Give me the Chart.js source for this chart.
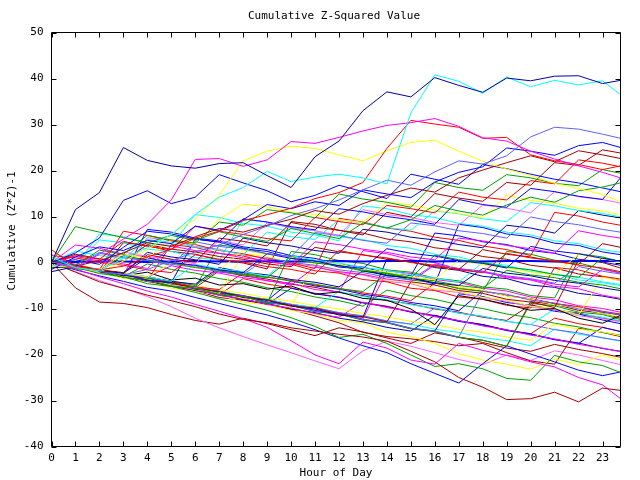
<!DOCTYPE html>
<html><head><meta charset="utf-8">
<script src="https://cdn.jsdelivr.net/npm/chart.js@4"></script>
<style>html,body{margin:0;padding:0;background:#fff}canvas{display:block}</style>
</head><body>
<canvas id="c" width="640" height="480"></canvas>
<script>
const titleText = 'Cumulative Z-Squared Value';
const xAxisLabel = 'Hour of Day';
const yAxisLabel = 'Cumulative (Z*Z)-1';
const hours = [0,1,2,3,4,5,6,7,8,9,10,11,12,13,14,15,16,17,18,19,20,21,22,23,23.75];
const xTickValues = [0,1,2,3,4,5,6,7,8,9,10,11,12,13,14,15,16,17,18,19,20,21,22,23];
const yTickValues = [-40,-30,-20,-10,0,10,20,30,40,50];

// upper outliers
const S1 = [0,11.5,15.2,25.0,22.2,21.0,20.5,21.5,21.7,18.9,16.3,23.0,26.4,33.0,37.1,36.0,40.2,38.5,37.0,40.1,39.5,40.5,40.6,38.9,39.6];
const S2 = [1.2,-1.1,-1.8,0.9,3.2,6.1,10.4,14.2,16.3,19.8,17.6,18.6,19.2,18.4,17.1,32.5,40.8,39.4,36.8,40.3,38.2,39.6,38.6,39.5,36.5];
const S3 = [0,-1.2,1.8,5.1,8.3,13.6,22.4,22.6,20.9,22.3,26.3,25.9,27.2,28.6,29.8,30.4,31.3,29.6,27.1,26.4,24.2,22.5,21.0,19.6,18.4];
const S4 = [2.8,-0.9,-1.6,-0.8,1.2,2.9,5.3,6.8,9.1,10.4,11.8,13.9,15.2,17.4,24.8,30.9,30.1,29.4,27.0,27.2,23.4,22.1,21.3,20.2,21.0];
const S5 = [0,-0.8,-1.9,-2.7,-1.5,0.4,2.3,3.8,6.1,7.9,10.2,11.7,13.6,15.8,17.9,16.8,19.7,22.1,21.4,23.2,27.3,29.4,29.0,27.9,27.0];
const S6 = [0,-0.9,-2.1,0.3,2.8,6.2,9.4,14.6,22.1,24.2,25.3,24.8,23.4,22.1,24.3,26.1,26.6,24.2,22.0,20.3,18.9,17.2,16.1,14.8,13.2];
const S7 = [-1.5,1.2,3.4,2.6,4.8,4.1,7.9,7.0,9.3,12.6,11.7,13.2,12.4,15.8,14.9,14.1,17.5,19.6,20.8,24.9,24.2,23.3,25.4,26.1,25.0];
const S8 = [0,-0.8,0.4,2.1,4.3,3.5,5.6,7.4,6.6,8.1,9.4,11.3,10.5,12.8,14.6,16.2,15.3,18.4,20.1,21.7,23.2,21.9,24.3,23.4,22.6];
const G1 = [0,7.8,6.6,5.4,4.3,5.9,4.8,6.7,5.5,4.6,7.4,6.3,5.2,8.6,7.5,9.3,12.4,11.2,10.3,12.5,14.2,13.1,15.6,16.4,17.3];
const H2 = [0,2.1,5.3,13.5,15.6,12.8,14.2,19.1,17.3,15.6,13.2,14.6,16.8,15.4,13.9,19.2,18.1,17.0,21.3,20.4,19.2,18.1,17.3,16.2,15.4];
// upper middle
const u1 = [0,1.5,0.7,4.6,3.5,2.8,7.9,6.8,6.1,5.2,4.7,9.8,8.9,8.2,12.4,11.7,10.8,15.3,14.2,13.6,17.8,17.1,22.3,21.6,20.8];
const u2 = [0.6,-0.7,2.7,1.8,5.9,4.9,4.2,8.8,8.1,11.5,10.8,9.7,14.9,13.8,13.1,12.0,17.4,16.3,15.7,19.1,18.4,17.2,16.7,20.2,19.4];
const u3 = [0,0.6,-0.4,3.3,6.8,6.2,5.1,4.5,9.5,8.8,7.8,7.1,11.7,11.0,10.0,9.3,8.3,13.7,12.6,12.0,16.1,15.4,14.4,13.7,18.4];
const u4 = [-0.8,-1.0,-1.6,1.9,0.9,5.0,4.0,9.4,12.7,12.1,11.0,10.4,9.3,8.7,13.1,12.5,11.4,10.7,9.7,14.6,13.5,12.9,11.8,11.2,10.4];
const u5 = [0,-0.6,-1.6,-2.2,1.7,0.7,0.1,5.3,4.6,3.6,8.7,7.7,7.0,6.0,10.9,9.9,15.0,14.0,13.3,17.4,16.8,21.7,21.1,24.5,23.8];
const u6 = [1.8,-0.9,-1.5,2.3,1.3,0.7,-0.3,4.8,3.8,8.6,7.6,6.9,5.9,11.5,10.4,9.8,8.7,8.1,12.5,11.8,10.8,15.4,14.3,13.7,12.9];
const u7 = [0,2.5,1.5,0.9,5.0,4.4,3.4,2.7,1.7,6.6,5.6,5.0,9.3,8.6,7.6,7.0,11.2,10.6,9.5,8.9,13.0,12.3,11.3,10.7,9.9];
const u8 = [0,-1.0,2.0,1.0,0.4,-0.6,4.5,3.5,2.9,1.9,1.3,6.5,5.9,4.8,4.2,8.6,8.0,6.9,6.3,5.3,9.9,8.9,8.2,7.2,6.6];
const u9 = [-1.2,-0.7,-1.7,-2.3,2.2,1.2,0.6,-0.4,5.3,4.3,3.6,2.6,2.0,7.2,6.6,5.5,4.9,3.9,3.2,8.1,7.5,6.4,11.3,10.3,9.7];
const u10 = [0,1.3,0.3,-0.3,-1.3,3.6,2.6,2.0,1.0,0.4,-0.6,4.5,3.9,2.9,2.2,1.2,0.6,5.3,4.7,3.7,3.0,2.0,6.9,5.9,5.3];
// middle
const m1 = [0,-0.7,-1.7,-2.3,1.0,0.0,-0.6,-1.6,-2.2,1.9,0.9,0.3,-0.7,-1.3,3.0,2.0,1.4,0.4,-0.2,-1.2,3.5,2.5,1.9,0.9,0.3];
const m2 = [1.5,1.0,0.0,-0.6,-1.6,-2.2,1.7,0.7,0.1,-0.9,-1.5,-2.5,2.6,1.6,1.0,0.0,-0.6,-1.6,-2.2,2.0,1.0,0.4,-0.6,-1.2,-2.0];
const m3 = [0,-1.0,-1.6,1.5,0.5,-0.1,-1.1,-1.7,-2.7,-3.3,0.9,-0.1,-0.7,-1.7,-2.3,-3.3,1.6,0.6,0.0,-1.0,-1.6,-2.6,-3.2,1.0,0.2];
const m4 = [0,-0.6,-1.6,-2.2,-3.2,-0.1,-1.1,-1.7,2.7,1.7,1.1,0.1,-0.5,-1.5,-2.1,-3.1,-3.7,0.5,-0.5,-1.1,-2.1,-2.7,1.8,0.8,0.2];
const m5 = [-0.6,-0.9,-1.5,-2.5,-3.1,-4.1,-0.4,-1.4,-2.0,-3.0,1.5,0.5,-0.1,-1.1,-1.7,-2.7,-3.3,-4.3,0.0,-1.0,-1.6,-2.6,-3.2,-4.2,-4.8];
const m6 = [0,1.8,0.8,0.2,3.9,2.9,2.3,1.3,0.7,-0.3,-0.9,3.3,2.3,1.7,0.7,0.1,-0.9,-1.5,2.8,1.8,1.2,0.2,-0.4,4.1,3.3];
const m7 = [0,-1.0,-1.6,-2.6,-3.2,-0.7,-1.7,-2.3,-3.3,-3.9,-4.9,-1.0,-2.0,-2.6,-3.6,-4.2,-0.5,-1.5,-2.1,-3.1,-3.7,-4.7,-5.3,-1.5,-2.3];
const m8 = [0,-0.5,2.2,1.2,0.6,-0.4,-1.0,-2.0,-2.6,1.0,0.0,-0.6,-1.6,-2.2,-3.2,-3.8,-0.3,-1.3,-1.9,-2.9,-3.5,-4.5,-0.9,-1.9,-2.5];
const m9 = [-2.0,-0.9,-1.5,-2.5,-3.1,-4.1,-4.7,-1.1,-2.1,-2.7,-3.7,-4.3,-5.3,-1.8,-2.8,-3.4,-4.4,-5.0,-1.3,-2.3,-2.9,-3.9,-4.5,-5.5,-6.1];
const m11 = [0,-0.8,-1.8,-2.4,-3.4,-4.0,-5.0,-1.5,-2.5,-3.1,-4.1,-4.7,-5.7,-6.3,-2.4,-3.4,-4.0,-5.0,-5.6,-1.7,-2.7,-3.3,-4.3,-4.9,-5.7];
const B1 = [0,-1.0,-1.6,-2.9,-2.1,-3.8,-3.4,-4.9,-4.6,-5.8,-5.1,-6.9,-6.4,-7.8,-8.2,-10.1,-13.5,-7.2,-8.0,-9.1,-10.4,-10.0,-12.1,-13.2,-11.5];
const flat = [0,0.1,0.2,0.2,0.1,0.2,0.3,0.2,0.2,0.3,0.2,0.2,0.3,0.2,0.3,0.3,0.2,0.3,0.2,0.3,0.3,0.2,0.3,0.3,0.3];
// jumpy middle band
const j1 = [0.5,-0.4,-1.6,6.8,5.9,4.7,3.9,2.6,1.9,0.7,-0.1,-1.3,9.6,8.8,7.5,6.8,5.5,4.8,3.6,2.8,1.5,10.9,10.1,8.8,8.1];
const j2 = [0,-0.6,-2.0,-2.5,-3.9,-4.4,5.1,4.4,3.0,2.4,1.0,0.4,-1.0,-1.4,-2.9,-3.3,-4.7,8.3,7.6,6.2,5.6,4.2,3.7,2.3,1.7];
const j3 = [-0.9,-1.3,-1.9,-3.2,-3.8,-5.1,-5.6,-6.9,-7.4,-8.8,2.4,1.7,0.4,-0.2,-1.6,-2.1,-3.4,-4.0,-5.3,-5.8,-7.2,-7.7,1.9,1.2,0.2];
const j4 = [0,3.8,3.1,1.8,1.2,-0.2,-0.7,-2.1,-2.6,-4.0,-4.5,-5.9,-6.4,2.6,1.9,0.6,0.0,-1.4,-1.9,-3.3,-3.8,-5.2,-5.7,-7.1,-7.8];
const j5 = [0,-0.7,-1.9,-2.5,-3.8,-4.4,-5.6,-6.3,-7.5,-8.1,-9.4,-9.9,-11.2,-11.8,-12.9,-4.2,-4.9,-6.1,-6.7,-8.0,-8.6,-9.8,0.6,0.0,-1.2];
const j6 = [0,-0.6,4.9,4.3,2.9,2.4,1.1,0.5,9.4,8.8,7.4,6.9,5.6,5.0,3.7,3.1,1.8,1.2,-0.1,-0.6,-2.0,-2.5,-3.8,-4.4,-5.0];
const j7 = [0,-1.2,-1.7,-3.1,-3.6,-4.9,-5.5,-6.8,1.9,1.3,0.0,-0.6,-1.9,-2.5,-3.8,-4.4,-5.7,-6.2,-7.6,-8.1,-9.5,-10.0,-11.4,-3.2,-3.9];
const j8 = [0,-0.8,-2.0,-2.6,-3.9,-4.4,-5.8,-6.3,-7.6,-8.2,-9.5,-10.1,-11.4,-11.9,0.8,0.2,-1.1,-1.7,-3.0,-3.5,-4.9,-5.4,-6.7,-7.3,-8.0];
const j9 = [0,-1.1,-1.7,-3.0,-3.6,-4.9,-5.4,-6.8,-7.3,-8.7,-9.2,-10.6,-11.1,-12.4,-13.0,-14.3,-14.9,-16.2,-6.3,-6.9,-8.2,-8.8,-10.1,-10.7,-11.4];
const j10 = [0,-0.7,-2.0,-2.6,-3.9,3.9,3.3,2.0,1.4,0.1,-0.4,-1.8,-2.3,-3.7,-4.2,-5.6,-6.1,-7.5,-8.0,-9.3,-9.9,-1.1,-1.6,-3.0,-3.6];
const j11 = [0,-1.2,-1.8,-3.1,-3.7,-5.0,-5.5,-6.9,-7.4,-8.8,-9.3,-10.7,-11.2,-12.5,-13.1,-14.4,-15.0,-16.3,-16.9,-18.2,-8.9,-9.4,-10.8,-11.3,-12.4];
const j12 = [0,-0.8,-2.1,-2.6,5.4,4.8,3.5,2.9,1.6,1.0,-0.3,-0.8,-2.2,-2.7,-4.1,-4.6,-6.0,-6.5,-7.8,-8.4,-9.7,-10.3,-11.6,-12.2,-12.9];
const j13 = [0,-1.0,-1.6,-2.9,-3.5,-4.8,-5.4,-6.7,-7.3,-8.6,-9.2,-10.5,-11.1,-12.4,-13.0,-14.3,-14.9,-6.8,-7.4,-8.7,-9.3,-10.6,-11.2,-12.5,-13.3];
const j14 = [0,-0.8,-2.1,-2.7,-4.0,-4.6,-5.9,-6.5,-7.8,-8.4,-9.7,0.3,-0.3,-1.6,-2.2,-3.5,-4.1,-5.4,-6.0,-7.3,-7.9,-9.2,-9.8,-11.1,-11.8];
const j15 = [0,-1.1,-1.7,-3.0,-3.6,-4.9,-5.5,-6.8,-7.4,-8.7,-9.3,-10.6,-11.2,-12.5,-13.1,-14.4,-15.0,-16.3,-16.9,-18.2,-8.5,-9.1,-10.4,-11.0,-12.1];
const j16 = [0,-0.7,6.2,5.6,4.3,3.7,10.4,9.8,8.5,7.9,6.6,6.0,4.7,12.3,11.7,10.4,9.8,8.5,7.9,6.6,6.0,4.7,4.1,2.8,2.2];
const j17 = [0,-1.0,-1.6,-2.9,7.2,6.6,5.3,4.7,3.4,2.8,1.5,0.9,-0.4,-1.0,-2.3,-2.9,6.4,5.8,4.5,3.9,2.6,2.0,0.7,0.1,-0.6];
const j18 = [0,-0.8,-2.1,4.3,3.7,2.4,1.8,0.5,-0.1,-1.4,8.9,8.3,7.0,6.4,5.1,4.5,3.2,2.6,1.3,0.7,-0.6,-1.2,-2.5,-3.1,-3.9];
const j19 = [0,-1.1,-1.7,-3.0,-3.6,-4.9,-5.5,3.8,3.2,1.9,1.3,0.0,-0.6,-1.9,-2.5,-3.8,-4.4,-5.7,-6.3,2.4,1.8,0.5,-0.1,-1.4,-2.2];
const j20 = [0,-0.9,-1.5,-2.8,-3.4,-4.7,-5.3,-6.6,-7.2,-8.5,-9.1,-10.4,-11.0,-12.3,-1.8,-2.4,-3.7,-4.3,-5.6,-6.2,-7.5,-8.1,-9.4,-10.0,-10.8];
// lower middle
const l1 = [0,-0.8,-1.9,-2.5,-3.6,-4.2,-5.3,-5.9,-2.2,-3.2,-3.9,-4.9,-5.6,-6.6,-7.3,-8.3,-4.5,-5.5,-6.2,-7.2,-7.9,-8.9,-9.6,-10.6,-11.2];
const l2 = [0,-1.1,-1.8,-2.9,-3.6,-4.7,-5.4,-6.5,-7.2,-8.3,-4.0,-5.1,-5.8,-6.9,-7.6,-8.7,-9.4,-10.5,-6.1,-7.2,-7.9,-9.0,-9.7,-10.8,-11.4];
const l3 = [0,-0.8,-1.9,-2.6,-3.7,-4.4,-5.5,-6.2,-7.3,-8.0,-9.1,-9.8,-6.3,-7.4,-8.1,-9.2,-9.9,-11.0,-11.7,-12.8,-13.5,-10.1,-11.2,-11.9,-12.7];
const l4 = [0,-0.9,-1.6,-2.6,-3.3,-4.3,-5.0,-6.0,-6.7,-7.7,-8.4,-9.4,-10.1,-11.1,-11.8,-12.8,-13.5,-14.5,-15.2,-16.2,-16.9,-13.4,-14.5,-15.1,-15.9];
const l5 = [0,-1.1,-1.9,-3.1,-0.3,-1.5,-2.3,-3.5,-4.3,-5.5,-6.3,-7.5,-8.3,-9.5,-6.0,-7.2,-8.0,-9.2,-10.0,-11.2,-12.0,-13.2,-14.0,-15.2,-15.8];
const l6 = [0,-0.8,-1.9,-2.6,-3.7,-4.4,-5.5,-1.8,-2.9,-3.6,-4.7,-5.4,-6.5,-7.2,-8.3,-9.0,-10.1,-10.8,-11.9,-12.6,-9.2,-10.3,-11.0,-12.1,-12.7];
const l7 = [0,-1.1,-1.9,-3.1,-3.9,-5.1,-5.9,-7.1,-7.9,-9.1,-9.9,-11.1,-11.9,-8.6,-9.8,-10.6,-11.8,-12.6,-13.8,-14.6,-15.8,-16.6,-17.8,-18.6,-19.4];
const l8 = [0,-0.8,-1.9,-2.6,-3.7,-4.4,-5.5,-6.2,-7.3,-8.0,-9.1,-9.8,-10.9,-11.6,-12.7,-13.4,-9.9,-11.0,-11.7,-12.8,-13.5,-14.6,-15.3,-16.4,-17.0];
const l9 = [0,-1.1,-1.9,-3.1,-3.9,-5.1,-5.9,-7.1,-7.9,-9.1,-5.6,-6.8,-7.6,-8.8,-9.6,-10.8,-11.6,-12.8,-13.6,-14.8,-15.6,-16.8,-17.6,-14.1,-15.0];
const l10 = [0,-0.9,-2.1,-2.9,-4.1,-4.9,-6.1,-6.9,-8.1,-8.9,-10.1,-10.9,-12.1,-12.9,-14.1,-14.9,-11.5,-12.7,-13.5,-14.7,-15.5,-16.7,-17.5,-18.7,-19.3];
const l11 = [0,-1.0,-1.8,-3.0,-3.8,-5.0,-5.8,-7.0,-3.5,-4.7,-5.5,-6.7,-7.5,-8.7,-9.5,-10.7,-11.5,-12.7,-13.5,-14.7,-15.5,-12.1,-13.3,-14.1,-15.0];
const l12 = [0,-0.8,-1.9,-2.6,-3.7,-4.4,-5.5,-6.2,-7.3,-8.0,-9.1,-9.8,-10.9,-11.6,-12.7,-13.4,-14.5,-15.2,-16.3,-17.0,-18.1,-14.5,-15.6,-16.3,-17.1];
// lower outliers
const L1 = [0,-2.1,-4.2,-5.6,-7.1,-8.3,-9.6,-11.2,-12.4,-13.1,-14.2,-14.9,-15.6,-16.2,-17.1,-19.3,-21.6,-25.0,-27.1,-29.8,-29.6,-28.2,-30.3,-27.3,-27.8];
const L2 = [0,-1.4,-3.1,-4.6,-6.2,-7.5,-9.1,-10.6,-12.2,-14.1,-17.0,-20.1,-22.0,-17.3,-18.6,-21.2,-22.1,-17.6,-19.1,-20.2,-21.6,-22.7,-25.0,-26.6,-29.6];
const L3 = [0,-1.0,-2.4,-3.1,-4.6,-5.2,-6.5,-7.9,-9.1,-10.4,-12.0,-13.9,-16.3,-15.6,-17.6,-20.1,-22.6,-22.0,-23.1,-25.2,-25.6,-20.2,-21.6,-22.4,-23.9];
const L4 = [0,-1.6,-2.9,-4.1,-5.4,-6.2,-7.6,-8.9,-10.2,-11.4,-12.9,-14.6,-16.4,-18.1,-19.6,-22.0,-24.1,-26.2,-22.0,-18.1,-19.9,-21.6,-23.4,-24.6,-23.8];
const L5 = [0,-1.1,-2.2,-3.4,-4.1,-5.6,-6.2,-7.1,-8.6,-9.2,-10.4,-11.2,-12.6,-13.1,-15.2,-16.1,-17.6,-19.8,-21.2,-22.1,-23.2,-21.0,-22.2,-20.1,-21.2];
const L6 = [0,-1.2,-2.1,-3.3,-4.1,-5.2,-6.1,-7.6,-8.2,-9.1,-10.2,-11.6,-13.1,-15.2,-16.1,-16.6,-17.2,-18.1,-17.6,-19.6,-21.4,-22.1,-14.3,-15.2,-16.1];
const L8 = [0,-2.0,-3.9,-5.6,-7.4,-9.6,-12.1,-14.2,-16.1,-17.9,-19.6,-21.4,-23.1,-19.2,-17.1,-18.2,-19.6,-21.1,-22.2,-20.1,-21.3,-19.2,-20.1,-21.3,-22.2];
const DR2 = [0,-5.5,-8.6,-8.9,-9.8,-11.3,-12.6,-13.4,-12.1,-13.3,-14.6,-15.9,-14.2,-15.1,-16.4,-17.6,-15.3,-16.2,-17.4,-18.6,-19.3,-17.8,-18.9,-19.8,-20.6];

const seriesValues = [S1,S2,S3,S4,S5,S6,S7,S8,G1,H2,u1,u2,u3,u4,u5,u6,u7,u8,u9,u10,
  m1,m2,m3,m4,m5,m6,m7,m8,m9,m11,B1,flat,
  j1,j2,j3,j4,j5,j6,j7,j8,j9,j10,j11,j12,j13,j14,j15,j16,j17,j18,j19,j20,
  l1,l2,l3,l4,l5,l6,l7,l8,l9,l10,l11,l12,L1,L2,L3,L4,L5,L6,L8,DR2];
const seriesColors = ['#0000a0','#00ffff','#ff00ff','#ff0000','#6060ff','#ffff00','#0000ff','#a00000','#00a000','#0000ff',
  '#ff0000','#00a000','#0000ff','#ffff00','#a00000','#ff60ff','#00ffff','#6060ff','#0000a0','#ff00ff',
  '#0000ff','#ff0000','#00a000','#ffff00','#00ffff','#a00000','#ff00ff','#6060ff','#0000a0','#00a000','#000000','#0000ff',
  '#ff0000','#0000ff','#00a000','#ff00ff','#a00000','#00ffff','#ffff00','#0000a0','#6060ff','#ff0000',
  '#00a000','#ff60ff','#0000ff','#ffff00','#a00000','#00ffff','#0000ff','#a00000','#00a000','#ff00ff',
  '#ff0000','#0000ff','#00ffff','#ffff00','#00a000','#a00000','#ff00ff','#6060ff','#0000ff','#0000a0','#ff0000','#00ffff',
  '#a00000','#ff00ff','#00a000','#0000ff','#ffff00','#a00000','#ff60ff','#a00000'];

const MONO = '"DejaVu Sans Mono", "Liberation Mono", monospace';

const datasets = seriesValues.map((vals, i) => ({
  data: vals.map((v, k) => ({x: hours[k], y: v})),
  borderColor: seriesColors[i],
  backgroundColor: seriesColors[i],
  borderWidth: vals === flat ? 2 : 1,
  pointRadius: 0,
  fill: false,
  tension: 0
}));

const framePlugin = {
  id: 'frame',
  afterDatasetsDraw(chart) {
    const {ctx, chartArea: a, scales: {x, y}} = chart;
    ctx.save();
    ctx.strokeStyle = '#000';
    ctx.lineWidth = 1;
    ctx.beginPath();
    ctx.rect(a.left, a.top, a.right - a.left, a.bottom - a.top);
    xTickValues.forEach(h => {
      const px = Math.round(x.getPixelForValue(h)) + 0.5;
      ctx.moveTo(px, a.bottom); ctx.lineTo(px, a.bottom - 5);
      ctx.moveTo(px, a.top); ctx.lineTo(px, a.top + 5);
    });
    yTickValues.forEach(v => {
      const py = Math.round(y.getPixelForValue(v)) + 0.5;
      ctx.moveTo(a.left, py); ctx.lineTo(a.left + 5, py);
      ctx.moveTo(a.right, py); ctx.lineTo(a.right - 5, py);
    });
    ctx.stroke();
    ctx.fillStyle = '#000';
    ctx.font = '11px ' + MONO;
    ctx.textAlign = 'center';
    ctx.textBaseline = 'middle';
    ctx.fillText(titleText, 334, 16);
    ctx.fillText(xAxisLabel, (a.left + a.right) / 2, 473);
    ctx.translate(12, 231);
    ctx.rotate(-Math.PI / 2);
    ctx.fillText(yAxisLabel, 0, 0);
    ctx.restore();
  }
};

new Chart(document.getElementById('c'), {
  type: 'line',
  data: {datasets},
  options: {
    responsive: false,
    animation: false,
    devicePixelRatio: 1,
    layout: {padding: {top: 32.5, right: 19.5, left: 0, bottom: 0}},
    plugins: {legend: {display: false}, title: {display: false}, tooltip: {enabled: false}},
    scales: {
      x: {
        type: 'linear', min: 0, max: 23.75,
        grid: {display: false, drawTicks: false},
        border: {display: false},
        afterBuildTicks: s => { s.ticks = xTickValues.map(v => ({value: v})); },
        afterFit: s => { s.height = 33.5; },
        ticks: {autoSkip: false, maxRotation: 0, padding: 5, color: '#000', font: {family: MONO, size: 11}}
      },
      y: {
        type: 'linear', min: -40, max: 50,
        grid: {display: false, drawTicks: false},
        border: {display: false},
        afterBuildTicks: s => { s.ticks = yTickValues.map(v => ({value: v})); },
        afterFit: s => { s.width = 51.5; },
        ticks: {padding: 8, color: '#000', font: {family: MONO, size: 11}}
      }
    }
  },
  plugins: [framePlugin]
});
</script>
</body></html>
